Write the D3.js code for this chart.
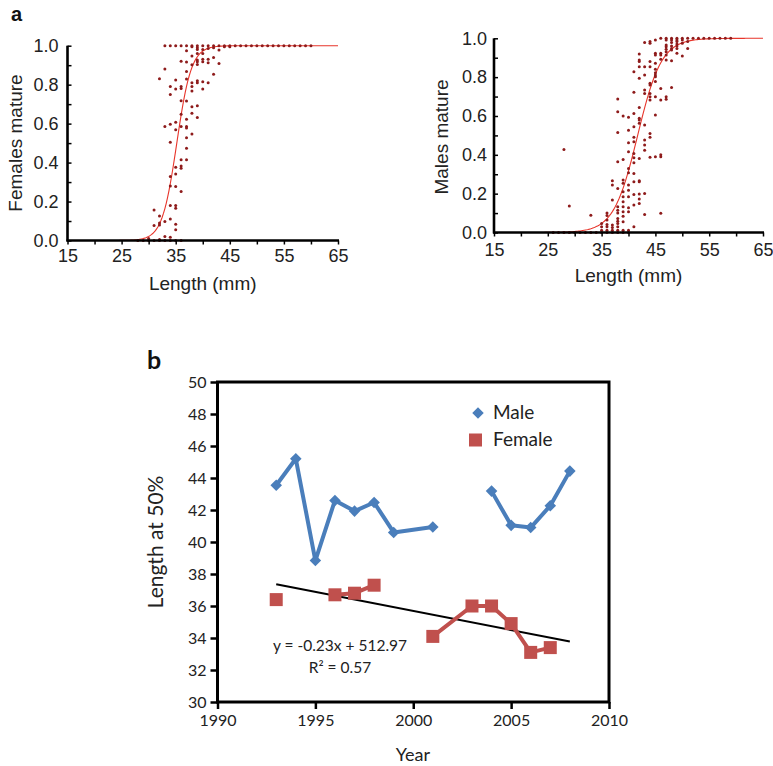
<!DOCTYPE html>
<html><head><meta charset="utf-8">
<script src="https://cdn.jsdelivr.net/npm/d3@7"></script>
<style>
body{margin:0;background:#fff}
svg{display:block}
</style></head>
<body>
<svg id="chart" width="773" height="766"></svg>
<script>
// ---------- Panel a: female maturity ogive ----------
const femaleLength = [28,29,30,30,31,32,32,33,33,34,34,35,36,
 31,31,
 32,32,32,32,
 33,33,33,33,
 34,34,34,34,34,34,34,34,34,
 35,35,35,35,35,35,35,35,35,35,35,35,
 36,36,36,36,36,36,36,36,36,36,36,
 37,37,37,37,37,37,37,37,37,37,37,37,
 38,38,38,38,38,38,38,38,38,38,
 39,39,39,39,39,39,39,39,39,39,39,
 40,40,40,40,40,40,40,
 41,41,41,41,41,
 42,42,42,42,
 43,43,43,
 44,44,45,45,46,47,48,49,50,51,52,53,54,55,56,57,58,59,60];
const femaleMature = [0,0,0,0.01,0,0,0.005,0.02,0,0.017,0,0,0,
 0.156,0.077,
 0.83,0.126,0.09,0.08,
 1,0.88,0.585,0.097,
 1,0.79,0.75,0.597,0.504,0.328,0.28,0.18,0.11,
 1,0.824,0.778,0.607,0.568,0.376,0.342,0.277,0.18,0.166,0.084,0.055,
 1,0.92,0.79,0.78,0.718,0.648,0.585,0.414,0.383,0.371,0.251,
 1,0.974,0.916,0.867,0.829,0.716,0.622,0.585,0.578,0.528,0.474,0.414,
 1,0.995,0.947,0.902,0.81,0.79,0.767,0.687,0.653,0.547,
 1,0.99,0.98,0.96,0.926,0.918,0.904,0.82,0.81,0.692,0.632,
 1,0.98,0.96,0.93,0.918,0.815,0.778,
 1,0.986,0.93,0.913,0.81,
 1,0.99,0.94,0.853,
 1,0.978,0.909,
 1,0.995,1,0.995,1,1,1,1,1,1,1,1,1,1,1,1,1,1,1];
const femaleL50 = 35.2, femaleSlope = 0.74;

// ---------- Panel a: male maturity ogive ----------
const maleLength = [26,27,28,29,30,31,32,33,34,35,36,37,38,39,40,
 28,29,33,
 35,35,35,
 36,36,36,36,36,36,
 37,37,37,37,37,37,
 38,38,38,38,38,38,38,38,38,38,38,38,38,
 39,39,39,39,39,39,39,39,39,39,39,39,
 40,40,40,40,40,40,40,40,40,40,40,40,
 41,41,41,41,41,41,41,41,41,41,41,41,41,41,
 42,42,42,42,42,42,42,42,42,42,42,42,42,42,42,
 43,43,43,43,43,43,43,43,43,43,43,
 44,44,44,44,44,44,44,44,44,44,44,44,
 45,45,45,45,45,45,45,45,45,45,45,45,
 46,46,46,46,46,46,46,46,46,
 47,47,47,47,47,47,47,47,47,47,
 48,48,48,48,48,48,48,48,
 49,49,49,49,49,49,49,
 50,50,50,50,
 51,51,51,
 52,53,54,55,56,57,58,59];
const maleMature = [0,0,0,0,0,0,0,0,0,0,0,0,0,0,0,
 0.428,0.137,0.089,
 0.046,0.029,0.012,
 0.101,0.088,0.064,0.041,0.029,0.012,
 0.266,0.244,0.167,0.038,0.026,0.012,
 0.687,0.622,0.515,0.364,0.227,0.132,0.115,0.101,0.072,0.058,0.046,0.029,0.012,
 0.6,0.376,0.27,0.253,0.21,0.184,0.158,0.132,0.107,0.084,0.055,0.012,
 0.593,0.527,0.462,0.416,0.33,0.308,0.244,0.218,0.184,0.127,0.107,0.012,
 0.828,0.722,0.613,0.545,0.49,0.467,0.407,0.385,0.359,0.304,0.261,0.196,0.141,0.029,
 0.919,0.888,0.88,0.854,0.794,0.644,0.588,0.579,0.562,0.381,0.266,0.261,0.198,0.172,0.149,
 0.978,0.854,0.811,0.734,0.716,0.553,0.476,0.45,0.424,0.201,0.093,
 0.983,0.974,0.88,0.854,0.768,0.759,0.716,0.699,0.682,0.51,0.49,0.387,
 0.991,0.923,0.914,0.871,0.84,0.823,0.811,0.802,0.777,0.699,0.605,0.39,
 1,0.923,0.914,0.892,0.742,0.682,0.39,0.4,0.099,
 1,0.991,0.966,0.957,0.943,0.931,0.914,0.888,0.699,0.686,
 1,0.991,0.978,0.96,0.948,0.94,0.885,0.747,
 1,0.991,0.983,0.971,0.96,0.948,0.923,
 1,0.991,0.974,0.909,
 1,0.983,0.948,
 1,1,1,1,1,1,1,1];
const maleL50 = 41.7, maleSlope = 0.45;

const lengthTicks = [15,25,35,45,55,65];
const matureTicks = [0,0.2,0.4,0.6,0.8,1.0];

// ---------- Panel b: length at 50% maturity ----------
const maleYears = [1993,1994,1995,1996,1997,1998,1999,2001,2004,2005,2006,2007,2008];
const maleLen50 = [43.55,45.2,38.84,42.6,41.93,42.47,40.6,40.94,43.18,41.04,40.9,42.27,44.43];
const maleRun   = [0,0,0,0,0,0,0,0,1,1,1,1,1];
const femaleYears = [1993,1996,1997,1998,2001,2003,2004,2005,2006,2007];
const femaleLen50 = [36.4,36.7,36.8,37.3,34.1,36.0,36.0,34.9,33.1,33.4];
const femaleRun   = [0,1,1,1,2,2,2,2,2,2];
const trendYears = [1993,2008];
const trendValues = [37.36,33.78];
const yearTicks = [1990,1995,2000,2005,2010];
const len50Ticks = [30,32,34,36,38,40,42,44,46,48,50];

const svg = d3.select("#chart");
const arial = "'Liberation Sans', Arial, Helvetica, sans-serif";
const calib = "Lato, 'Open Sans', sans-serif";

function ogive(cfg){
  const x = d3.scaleLinear().domain([15,65]).range([cfg.x0,cfg.x1]);
  const y = d3.scaleLinear().domain([0,1]).range([cfg.y0,cfg.y1]);
  const g = svg.append("g");
  // curve
  const xs = d3.range(15,65.001,0.25);
  g.append("path")
    .datum(xs)
    .attr("fill","none").attr("stroke","#e8352b").attr("stroke-width",1.1)
    .attr("d", d3.line().x(d=>x(d)).y(d=>y(1/(1+Math.exp(-cfg.slope*(d-cfg.l50))))));
  // points
  g.selectAll("circle.p").data(cfg.len.map((l,i)=>[l,cfg.mat[i]])).join("circle")
    .attr("cx",d=>x(d[0])).attr("cy",d=>y(d[1])).attr("r",1.5).attr("fill","#8e1b1b");
  // x axis: minor ticks every 5
  const xa = g.append("g").attr("transform",`translate(0,${cfg.y0})`)
    .call(d3.axisBottom(x).tickValues(d3.range(15,66,5)).tickSize(4).tickFormat(""));
  xa.select(".domain").attr("stroke-width",2.6).attr("d",`M${cfg.x0-1},0H${cfg.x1+1}`);
  xa.selectAll(".tick line").attr("stroke-width",1.5);
  const xl = g.append("g").attr("transform",`translate(0,${cfg.y0})`)
    .call(d3.axisBottom(x).tickValues(lengthTicks).tickSize(0).tickPadding(cfg.xpad).tickFormat(d3.format("d")));
  xl.select(".domain").remove();
  xl.selectAll("text").attr("font-family",arial).attr("font-size",18).attr("fill","#222");
  // y axis: minor ticks every 0.1, inward
  const ya = g.append("g").attr("transform",`translate(${cfg.x0},0)`)
    .call(d3.axisLeft(y).tickValues(d3.range(0,1.001,0.1)).tickSize(-4).tickFormat(""));
  ya.select(".domain").attr("stroke-width",2.6).attr("d",`M0,${cfg.y0+1}V${cfg.y1}`);
  ya.selectAll(".tick line").attr("stroke-width",1.5);
  const yl = g.append("g").attr("transform",`translate(${cfg.x0},0)`)
    .call(d3.axisLeft(y).tickValues(matureTicks).tickSize(0).tickPadding(cfg.ypad).tickFormat(d3.format(".1f")));
  yl.select(".domain").remove();
  yl.selectAll("text").attr("font-family",arial).attr("font-size",18).attr("fill","#222");
  // labels
  svg.append("text").attr("x",(cfg.x0+cfg.x1)/2).attr("y",cfg.titleY)
    .attr("text-anchor","middle").attr("font-family",arial).attr("font-size",19).attr("fill","#222")
    .text("Length (mm)");
  svg.append("text").attr("transform",`translate(${cfg.ylx},${cfg.yly}) rotate(-90)`)
    .attr("text-anchor","middle").attr("font-family",arial).attr("font-size",19).attr("fill","#222")
    .text(cfg.ylabel);
}

ogive({x0:67.5,x1:338,y0:240.5,y1:45.7,len:femaleLength,mat:femaleMature,l50:femaleL50,slope:femaleSlope,
       ylabel:"Females mature",ylx:22,yly:143,xpad:8.5,ypad:9,titleY:290});
ogive({x0:494,x1:763,y0:232.5,y1:38.3,len:maleLength,mat:maleMature,l50:maleL50,slope:maleSlope,
       ylabel:"Males mature",ylx:448,yly:137,xpad:11,ypad:7,titleY:282});

svg.append("text").attr("x",11).attr("y",21).attr("font-family",arial).attr("font-weight","bold")
  .attr("font-size",20).attr("fill","#111").text("a");

// ---------- Panel b ----------
const bx = d3.scaleLinear().domain([1990,2010]).range([217.5,609]);
const by = d3.scaleLinear().domain([30,50]).range([702,382]);
const gb = svg.append("g");

const maleCol = "#4a7ebb", femCol = "#c0504d";

// trend line
gb.append("path").datum(trendYears.map((t,i)=>[t,trendValues[i]]))
  .attr("fill","none").attr("stroke","#000").attr("stroke-width",2)
  .attr("d", d3.line().x(d=>bx(d[0])).y(d=>by(d[1])));

// female lines & markers
const femPts = femaleYears.map((t,i)=>({t,v:femaleLen50[i],r:femaleRun[i]}));
d3.groups(femPts,d=>d.r).forEach(([r,pts])=>{
  if(pts.length>1) gb.append("path").datum(pts).attr("fill","none").attr("stroke",femCol)
    .attr("stroke-width",4).attr("stroke-linejoin","round")
    .attr("d",d3.line().x(d=>bx(d.t)).y(d=>by(d.v)));
});
gb.selectAll("rect.f").data(femPts).join("rect")
  .attr("x",d=>bx(d.t)-6.5).attr("y",d=>by(d.v)-6.5).attr("width",13).attr("height",13).attr("fill",femCol);

// male lines & markers
const malePts = maleYears.map((t,i)=>({t,v:maleLen50[i],r:maleRun[i]}));
d3.groups(malePts,d=>d.r).forEach(([r,pts])=>{
  if(pts.length>1) gb.append("path").datum(pts).attr("fill","none").attr("stroke",maleCol)
    .attr("stroke-width",4).attr("stroke-linejoin","round")
    .attr("d",d3.line().x(d=>bx(d.t)).y(d=>by(d.v)));
});
const diamond = d3.symbol().type(d3.symbolDiamond2).size(85);
gb.selectAll("path.m").data(malePts).join("path")
  .attr("transform",d=>`translate(${bx(d.t)},${by(d.v)})`).attr("d",diamond).attr("fill",maleCol);

// frame
gb.append("rect").attr("x",217.5).attr("y",382).attr("width",609-217.5).attr("height",702-382)
  .attr("fill","none").attr("stroke","#000").attr("stroke-width",3);

// axes
const bxa = gb.append("g").attr("transform","translate(0,702)")
  .call(d3.axisBottom(bx).tickValues(yearTicks).tickSize(7).tickPadding(6).tickFormat(d3.format("d")));
bxa.select(".domain").remove();
bxa.selectAll(".tick line").attr("stroke-width",2.5);
bxa.selectAll("text").attr("font-family",calib).attr("font-size",16).attr("fill","#222");
const bya = gb.append("g").attr("transform","translate(217.5,0)")
  .call(d3.axisLeft(by).tickValues(len50Ticks).tickSize(7).tickPadding(4).tickFormat(d3.format("d")));
bya.select(".domain").remove();
bya.selectAll(".tick line").attr("stroke-width",2.5);
bya.selectAll("text").attr("font-family",calib).attr("font-size",16).attr("fill","#222");

svg.append("text").attr("x",413).attr("y",761).attr("text-anchor","middle")
  .attr("font-family",calib).attr("font-size",18).attr("fill","#222").text("Year");
svg.append("text").attr("transform","translate(163,542) rotate(-90)").attr("text-anchor","middle")
  .attr("font-family",calib).attr("font-size",21).attr("fill","#222").text("Length at 50%");

// equation
svg.append("text").attr("x",340).attr("y",651).attr("text-anchor","middle")
  .attr("font-family",calib).attr("font-size",15.5).attr("fill","#222").text("y = -0.23x + 512.97");
svg.append("text").attr("x",340).attr("y",673).attr("text-anchor","middle")
  .attr("font-family",calib).attr("font-size",15.5).attr("fill","#222").text("R² = 0.57");

// legend
const leg = svg.append("g");
leg.append("path").attr("transform","translate(478,413)").attr("d",diamond).attr("fill",maleCol);
leg.append("rect").attr("x",469).attr("y",433.5).attr("width",13).attr("height",13).attr("fill",femCol);
leg.append("text").attr("x",493).attr("y",419).attr("font-family",calib).attr("font-size",19).attr("fill","#222").text("Male");
leg.append("text").attr("x",493).attr("y",446).attr("font-family",calib).attr("font-size",19).attr("fill","#222").text("Female");

svg.append("text").attr("x",147).attr("y",369).attr("font-family",calib).attr("font-weight","bold")
  .attr("font-size",25).attr("fill","#111").text("b");
</script>
</body></html>
